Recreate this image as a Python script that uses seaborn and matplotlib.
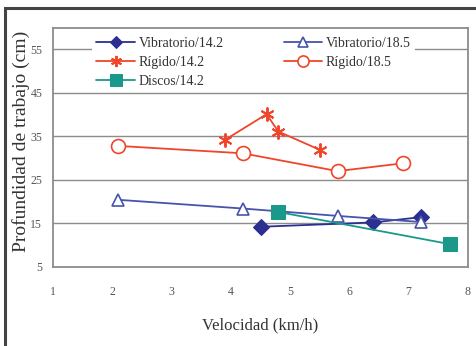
import matplotlib
matplotlib.use("Agg")
import matplotlib.pyplot as plt
from matplotlib.patches import Rectangle
import seaborn as sns

# ── data ──
vib142_x = [4.5, 6.4, 7.2]
vib142_y = [14.2, 15.2, 16.4]
vib185_x = [2.1, 4.2, 5.8, 7.2]
vib185_y = [20.4, 18.4, 16.7, 15.3]
rig142_x = [3.9, 4.6, 4.8, 5.5]
rig142_y = [34.2, 40.1, 36.1, 31.9]
rig185_x = [2.1, 4.2, 5.8, 6.9]
rig185_y = [32.8, 31.1, 27.0, 28.8]
disc142_x = [4.8, 7.7]
disc142_y = [17.6, 10.2]

x_ticks = [1, 2, 3, 4, 5, 6, 7, 8]
y_ticks = [5, 15, 25, 35, 45, 55]

NAVY = "#2b2f8f"
BLUE = "#4654ab"
RED = "#f0452b"
TEAL = "#1a998b"
GRID = "#8c8c8c"
TXT = "#333333"

sns.set_style("white")
plt.rcParams["font.family"] = ["Liberation Serif", "DejaVu Serif"]

fig = plt.figure(figsize=(4.76, 3.46), dpi=100)
ax = fig.add_axes([0.112, 0.229, 0.871, 0.691])

sns.lineplot(x=vib142_x, y=vib142_y, ax=ax, color=NAVY, marker="D", markersize=8,
             markeredgecolor=NAVY, lw=1.3, label="Vibratorio/14.2", sort=False)
sns.lineplot(x=vib185_x, y=vib185_y, ax=ax, color=BLUE, marker="^", markersize=9,
             markerfacecolor="white", markeredgecolor=BLUE, markeredgewidth=1.2,
             lw=1.3, label="Vibratorio/18.5", sort=False)
sns.lineplot(x=rig142_x, y=rig142_y, ax=ax, color=RED, marker=(6, 2, 0), markersize=10,
             markeredgecolor=RED, markeredgewidth=1.4, lw=1.3, label="Rígido/14.2", sort=False)
sns.lineplot(x=rig185_x, y=rig185_y, ax=ax, color=RED, marker="o", markersize=10,
             markerfacecolor="white", markeredgecolor=RED, markeredgewidth=1.2,
             lw=1.3, label="Rígido/18.5", sort=False)
sns.lineplot(x=disc142_x, y=disc142_y, ax=ax, color=TEAL, marker="s", markersize=10,
             markeredgecolor=TEAL, lw=1.3, label="Discos/14.2", sort=False)

ax.set_xlim(1, 8)
ax.set_ylim(5, 60)
ax.set_xticks(x_ticks)
ax.set_yticks(y_ticks)
ax.tick_params(axis="both", labelsize=8.5, labelcolor="#555555", color=GRID,
               length=4, width=1, direction="out")
ax.tick_params(axis="x", pad=10)
ax.tick_params(axis="y", pad=4)
for y in y_ticks[1:]:
    ax.axhline(y, color=GRID, lw=1, zorder=0)
for s in ax.spines.values():
    s.set_color(GRID)
    s.set_linewidth(1.3)

ax.set_xlabel("Velocidad (km/h)", fontsize=12, color=TXT, labelpad=14)
ax.set_ylabel("Profundidad de trabajo (cm)", fontsize=14, color=TXT)
ax.yaxis.set_label_coords(-0.057, 0.525)

# legend ordered so the two columns read row by row like the original
h, l = ax.get_legend_handles_labels()
order = [0, 2, 4, 1, 3]
leg = ax.legend([h[i] for i in order], [l[i] for i in order], ncol=2,
                loc="upper left", bbox_to_anchor=(0.077, 1.007), frameon=True,
                facecolor="white", edgecolor="none", framealpha=1,
                fontsize=10, handlelength=2.8, handletextpad=0.25,
                columnspacing=4.3, labelspacing=0.42, borderpad=0.3,
                markerscale=0.8)
for t in leg.get_texts():
    t.set_color(TXT)

# outer frame around the figure
fig.patches.append(Rectangle((0.011, -0.05), 1.1, 1.027, transform=fig.transFigure,
                             fill=False, edgecolor="#444444", lw=2.2))

fig.savefig("out.png", dpi=100)
